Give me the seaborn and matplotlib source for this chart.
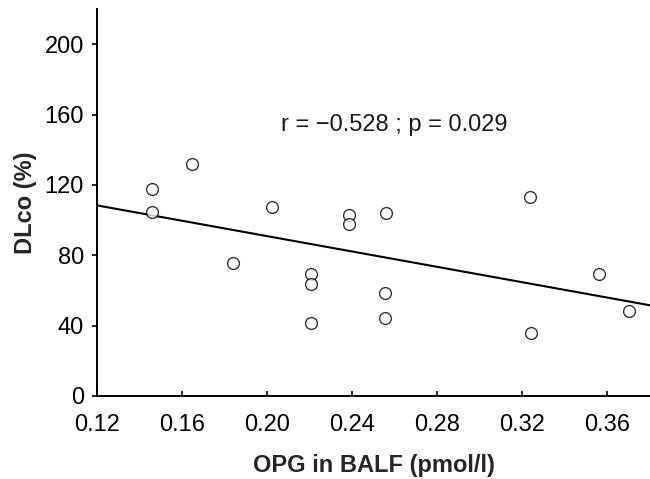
import matplotlib
matplotlib.use("Agg")
import matplotlib.pyplot as plt
import seaborn as sns
import pandas as pd

# Data
opg = [0.1457, 0.1457, 0.1649, 0.2022, 0.2383, 0.2383, 0.2560, 0.3235, 0.1839,
       0.2204, 0.2204, 0.2204, 0.2555, 0.2555, 0.3241, 0.3560, 0.3703]
dlco = [117.8, 104.7, 132.0, 107.7, 103.0, 97.7, 103.9, 113.4, 75.7,
        69.4, 63.7, 41.5, 58.8, 44.6, 35.7, 69.4, 48.5]
x_ticks = [0.12, 0.16, 0.20, 0.24, 0.28, 0.32, 0.36]
x_tick_labels = ["0.12", "0.16", "0.20", "0.24", "0.28", "0.32", "0.36"]
y_ticks = [0, 40, 80, 120, 160, 200]
annotation = "r = \u22120.528 ; p = 0.029"

df = pd.DataFrame({"OPG": opg, "DLco": dlco})

sns.set_theme(style="ticks")
plt.rcParams["font.family"] = ["Liberation Sans", "DejaVu Sans"]

fig = plt.figure(figsize=(6.5, 4.79), dpi=100)
ax = fig.add_axes([97 / 650, 83 / 479, 553 / 650, 387 / 479])
ax.set_xlim(0.12, 0.38)
ax.set_ylim(0, 220)

sns.regplot(data=df, x="OPG", y="DLco", ax=ax, ci=None, truncate=False,
            scatter_kws=dict(s=72, facecolors="white", edgecolors="black",
                             linewidths=1.0, zorder=3),
            line_kws=dict(color="black", linewidth=1.5, zorder=2))

ax.set_xlim(0.12, 0.38)
ax.set_ylim(0, 220)
ax.set_xticks(x_ticks)
ax.set_xticklabels(x_tick_labels)
ax.set_yticks(y_ticks)

for s in ["top", "right"]:
    ax.spines[s].set_visible(False)
for s in ["left", "bottom"]:
    ax.spines[s].set_linewidth(1.4)
    ax.spines[s].set_color("black")

ax.tick_params(axis="x", direction="in", length=3.5, width=1.2, labelsize=17,
               pad=13, colors="black")
ax.tick_params(axis="y", direction="out", length=3.5, width=1.2, labelsize=17,
               pad=6, colors="black")

ax.set_xlabel("OPG in BALF (pmol/l)", fontsize=17, fontweight="bold", labelpad=13)
ax.set_ylabel("DLco (%)", fontsize=17, fontweight="bold", labelpad=5)

ax.text(0.2063, 154.2, annotation, fontsize=17, ha="left", va="center", color="#1a1a1a")

fig.savefig("out.png", dpi=100)
